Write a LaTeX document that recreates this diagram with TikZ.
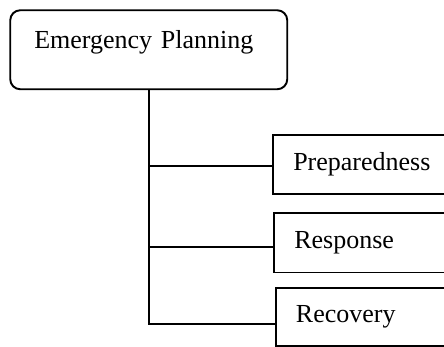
\documentclass[tikz,border=0pt]{standalone}
\usepackage{fontspec}
\setmainfont{Liberation Serif}
\begin{document}
\begin{tikzpicture}[x=1pt,y=1pt,
  every node/.style={font=\fontsize{26}{30}\selectfont},
  line/.style={line width=1.9pt, draw=black},
  rootbox/.style={line, rounded corners=10pt, anchor=north west,
    minimum width=277pt, minimum height=79pt, inner xsep=24pt, inner ysep=0pt,
    text width=229pt, align=left, text height=18pt, text depth=21pt},
  phasebox/.style={line, anchor=north west, minimum width=200pt,
    minimum height=59.5pt, inner xsep=20pt, inner ysep=0pt,
    text width=160pt, align=left}
]
\useasboundingbox (0,0) rectangle (444,-347);
\clip (0,0) rectangle (444,-347);

% root of the tree
\node[rootbox] (root) at (9.3,-9.3) {Emergency Planning};

% the three phases
\node[phasebox] (prep) at (272.3,-134) {Preparedness};
\node[phasebox] (resp) at (273.3,-212) {Response};
\node[phasebox, minimum height=58.3pt] (reco) at (275,-287) {Recovery};

% branch points on the phase boxes
\coordinate (jprep) at ([yshift=-1pt]prep.west);
\coordinate (jresp) at ([yshift=-4.5pt]resp.west);
\coordinate (jreco) at ([yshift=-6.9pt]reco.west);

% trunk and branches
\draw[line] (root.south) |- (jreco);
\draw[line] (jprep) -| (root.south);
\draw[line] (jresp) -| (root.south);
\end{tikzpicture}
\end{document}
